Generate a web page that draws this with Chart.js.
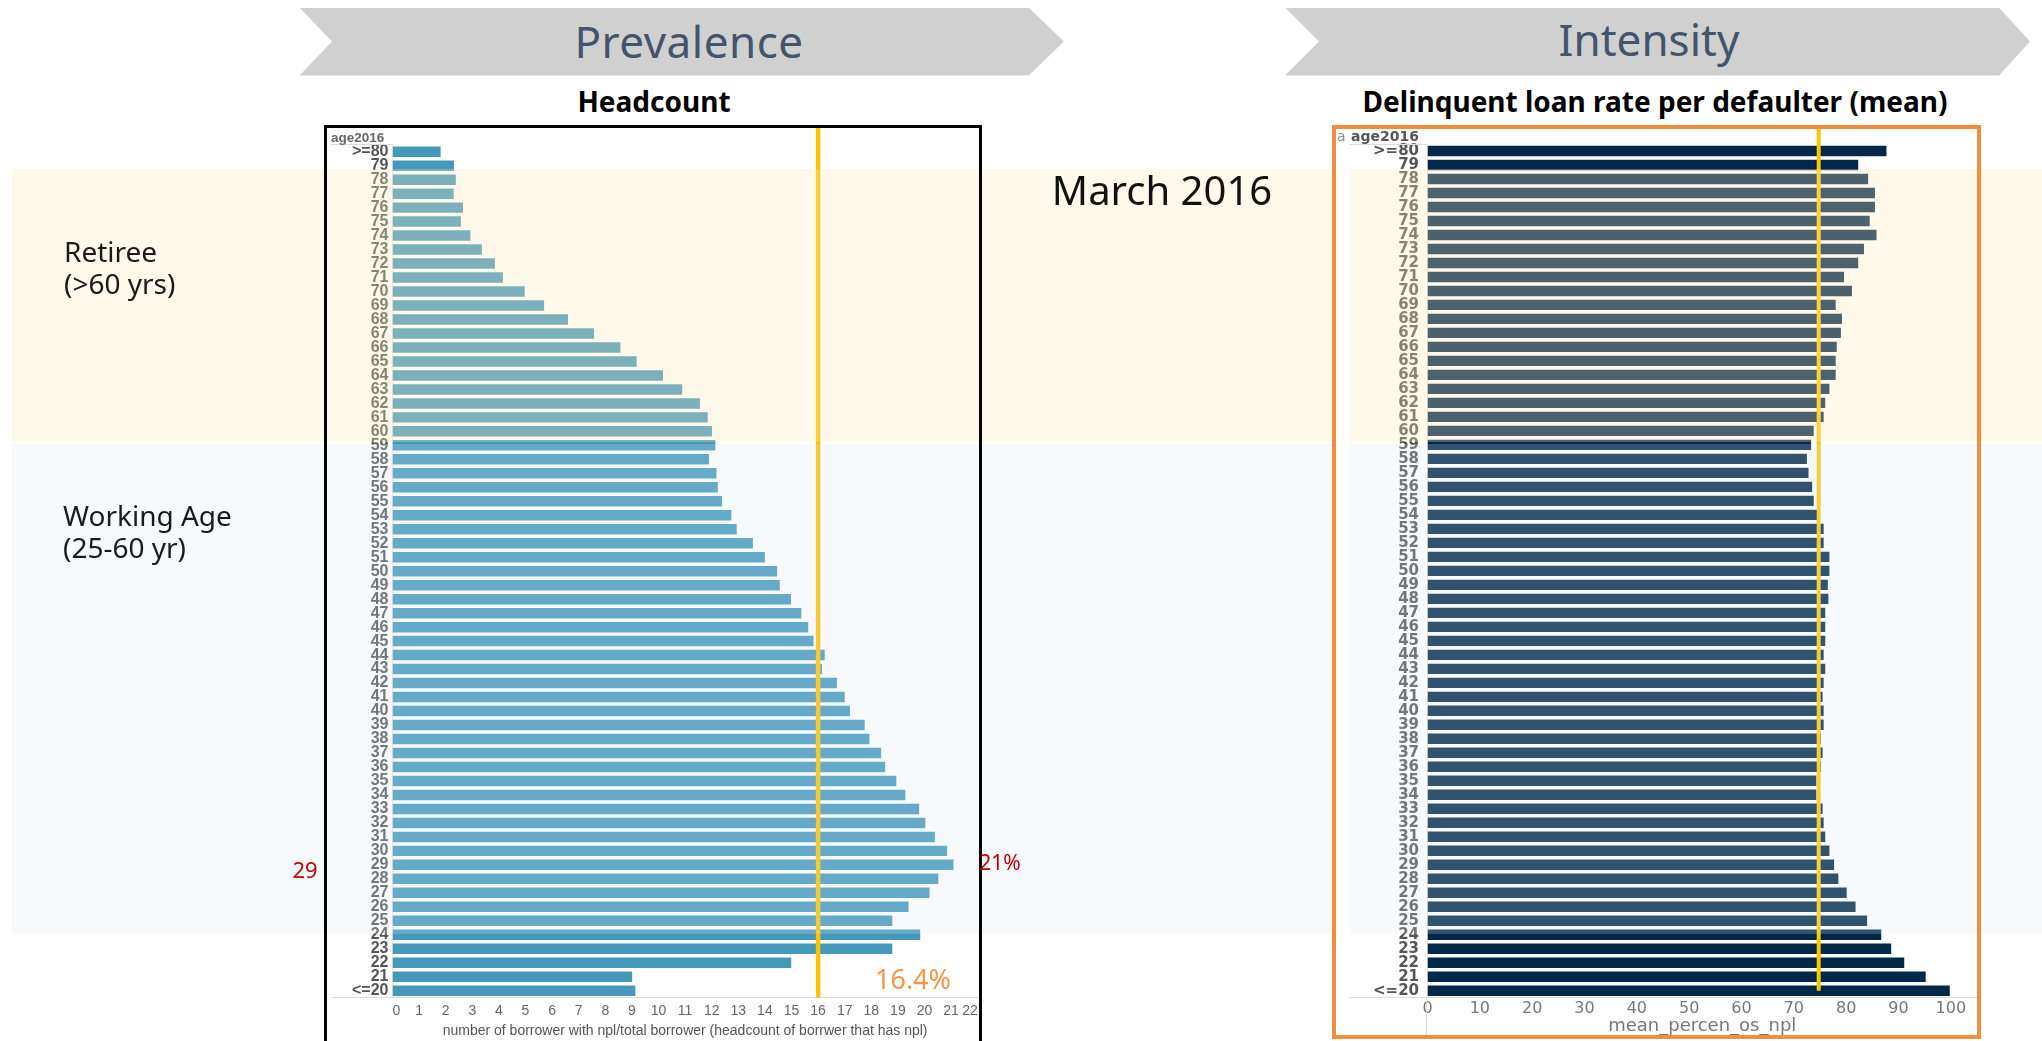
<!DOCTYPE html>
<html>
<head>
<meta charset="utf-8">
<script src="https://cdn.jsdelivr.net/npm/chart.js@4.4.1/dist/chart.umd.min.js"></script>
<style>
  body { margin: 0; width: 2042px; height: 1041px; overflow: hidden; background: #fff; position: relative; font-family: 'Noto Sans', sans-serif; }
  .txt { position: absolute; white-space: nowrap; line-height: 1; transform: translate(-50%, -50%); z-index: 4; }
  .lt { transform: translate(0, -50%); }
  .chev { position: absolute; background: #d0d0d0; z-index: 1; }
  canvas { position: absolute; z-index: 1; }
  .band { position: absolute; z-index: 2; pointer-events: none; }
  .retiree { background: rgba(255, 236, 190, 0.3); top: 169px; height: 272.5px; }
  .working { background: rgba(220, 233, 244, 0.224); top: 443.5px; height: 490.2px; }
  .line { position: absolute; background: #dcdcdc; z-index: 3; }
</style>
</head>
<body>

<!-- header chevrons -->
<div class="chev" style="left:299.5px;top:7.5px;width:764.5px;height:68px;clip-path:polygon(0 0,729px 0,764.5px 34px,729px 68px,0 68px,32.5px 34px)"></div>
<div class="chev" style="left:1285px;top:7.5px;width:745px;height:68px;clip-path:polygon(0 0,714px 0,745px 34px,714px 68px,0 68px,34px 34px)"></div>
<div class="txt" style="left:689px;top:41px;font-size:44px;color:#44546a;letter-spacing:0.5px">Prevalence</div>
<div class="txt" style="left:1649px;top:39px;font-size:44px;color:#44546a">Intensity</div>

<div class="txt" style="left:654px;top:101px;font-size:28px;font-weight:bold;color:#000">Headcount</div>
<div class="txt" style="left:1655px;top:101px;font-size:28px;font-weight:bold;color:#000">Delinquent loan rate per defaulter (mean)</div>

<div class="txt" style="left:1162px;top:190px;font-size:40px;color:#111">March 2016</div>

<div class="txt lt" style="left:64px;top:251px;font-size:28px;color:#1a1a1a">Retiree</div>
<div class="txt lt" style="left:64px;top:283px;font-size:28px;color:#1a1a1a">(&gt;60 yrs)</div>
<div class="txt lt" style="left:63px;top:515px;font-size:28px;color:#1a1a1a">Working Age</div>
<div class="txt lt" style="left:63px;top:547px;font-size:28px;color:#1a1a1a">(25-60 yr)</div>

<!-- left chart -->
<canvas id="headcount" width="652" height="913" style="left:327px;top:128px"></canvas>
<div style="position:absolute;left:324px;top:125px;width:658px;height:940px;border:3px solid #000;border-bottom:none;box-sizing:border-box;z-index:4"></div>
<div class="txt lt" style="left:331px;top:137px;font:bold 13.5px 'Liberation Sans',Arial,sans-serif;color:#666">age2016</div>
<div class="line" style="left:331px;top:144px;width:61px;height:1px"></div>
<div class="line" style="left:331px;top:997px;width:62px;height:1px"></div>
<div class="txt" style="left:305px;top:869px;font-size:22px;color:#c00000">29</div>
<div class="txt" style="left:1000px;top:862px;font-size:21px;color:#c00000">21%</div>
<div class="txt" style="left:913px;top:978px;font-size:27px;color:#f79646">16.4%</div>

<!-- right chart -->
<canvas id="intensity" width="641" height="906" style="left:1336px;top:129px"></canvas>
<div style="position:absolute;left:1332px;top:125px;width:649px;height:914px;border:4px solid #f28e3b;box-sizing:border-box;z-index:4"></div>
<div class="txt lt" style="left:1337px;top:136px;font:14px 'DejaVu Sans',sans-serif;color:#888">a</div>
<div class="txt" style="left:1419px;top:136px;transform:translate(-100%,-50%);font:bold 14px 'DejaVu Sans',sans-serif;color:#555">age2016</div>
<div class="line" style="left:1349px;top:144px;width:77px;height:1px"></div>
<div class="line" style="left:1349px;top:997px;width:79px;height:1px"></div>
<div class="line" style="left:1426px;top:998px;width:1px;height:37px"></div>

<!-- age bands -->
<div class="band retiree" style="left:12px;width:1324.5px"></div>
<div class="band retiree" style="left:1349.5px;width:692.5px"></div>
<div class="band working" style="left:12px;width:1324.5px"></div>
<div class="band working" style="left:1349.5px;width:692.5px"></div>

<script>
/*
    DATA
*/
const ageLabels = ['>=80', '79', '78', '77', '76', '75', '74', '73', '72', '71', '70',
  '69', '68', '67', '66', '65', '64', '63', '62', '61', '60',
  '59', '58', '57', '56', '55', '54', '53', '52', '51', '50',
  '49', '48', '47', '46', '45', '44', '43', '42', '41', '40',
  '39', '38', '37', '36', '35', '34', '33', '32', '31', '30',
  '29', '28', '27', '26', '25', '24', '23', '22', '21', '<=20'];

// share of borrowers with npl, per age
const headcountShare = [1.81, 2.31, 2.38, 2.30, 2.65, 2.57, 2.93, 3.36, 3.85, 4.15, 4.97,
  5.70, 6.60, 7.58, 8.57, 9.18, 10.17, 10.89, 11.56, 11.85, 12.01,
  12.14, 11.90, 12.18, 12.23, 12.39, 12.74, 12.94, 13.55, 14.00, 14.46,
  14.56, 14.98, 15.37, 15.63, 15.83, 16.25, 16.15, 16.71, 17.00, 17.20,
  17.75, 17.93, 18.37, 18.52, 18.94, 19.28, 19.80, 20.03, 20.39, 20.85,
  21.09, 20.52, 20.19, 19.40, 18.79, 19.84, 18.79, 14.99, 9.01, 9.13];

// mean_percen_os_npl, per age
const meanPercenOsNpl = [87.7, 82.3, 84.2, 85.5, 85.5, 84.5, 85.8, 83.4, 82.3, 79.6, 81.1,
  78.0, 79.2, 79.0, 78.2, 78.0, 78.0, 76.8, 76.0, 75.7, 73.8,
  73.3, 72.5, 72.8, 73.5, 73.8, 74.9, 75.7, 75.7, 76.8, 76.8,
  76.5, 76.6, 76.0, 76.0, 76.0, 75.7, 76.0, 75.7, 75.5, 75.7,
  75.7, 75.2, 75.5, 75.2, 74.3, 74.3, 75.5, 75.7, 76.0, 76.8,
  77.7, 78.5, 80.1, 81.8, 84.0, 86.7, 88.6, 91.1, 95.2, 99.8];

const headcountAvg = 16;
const intensityAvg = 74.75;

/*
    HELPERS
*/
// vertical reference line at a value of the x scale
const avgLine = {
  id: 'avgLine',
  afterDatasetsDraw(chart, args, opts) {
    const { ctx, chartArea, scales: { x, y } } = chart;
    const px = x.getPixelForValue(opts.value);
    const bottom = opts.toLastBar ? y.getPixelForValue(y.max) : chartArea.bottom;
    ctx.save();
    ctx.strokeStyle = opts.color;
    ctx.lineWidth = opts.width;
    ctx.beginPath();
    ctx.moveTo(px, 0);
    ctx.lineTo(px, bottom);
    ctx.stroke();
    ctx.restore();
  }
};

const fixBox = (w, h) => (scale) => {
  if (w !== undefined) scale.width = w;
  if (h !== undefined) scale.height = h;
  scale.paddingLeft = scale.paddingRight = scale.paddingTop = scale.paddingBottom = 0;
};

const noGrid = { display: false, drawTicks: false };

/*
    CHARTS
*/
new Chart(document.getElementById('headcount'), {
  type: 'bar',
  data: {
    labels: ageLabels,
    datasets: [{ data: headcountShare, backgroundColor: '#4499bb', barPercentage: 0.75, categoryPercentage: 1 }]
  },
  options: {
    indexAxis: 'y',
    responsive: false,
    animation: false,
    events: [],
    layout: { padding: { top: 16.7, right: 1.3, left: 0, bottom: 0 } },
    plugins: {
      legend: { display: false },
      tooltip: { enabled: false },
      avgLine: { value: headcountAvg, color: '#ffc000', width: 4.5 }
    },
    scales: {
      x: {
        min: 0,
        max: 22,
        grid: noGrid,
        border: { color: '#d9d9d9' },
        ticks: {
          stepSize: 1, autoSkip: false, maxRotation: 0, align: 'inner', padding: 5, color: '#666',
          font: { family: "'Liberation Sans Narrow', 'Liberation Sans', sans-serif", size: 14 }
        },
        title: {
          display: true,
          text: 'number of borrower with npl/total borrower (headcount of borrwer that has npl)',
          color: '#555',
          padding: { top: 0, bottom: 1 },
          font: { family: "'Liberation Sans Narrow', 'Liberation Sans', sans-serif", size: 14 }
        },
        afterFit: fixBox(undefined, 43.3)
      },
      y: {
        grid: noGrid,
        border: { color: '#e8e8e8' },
        ticks: {
          autoSkip: false, padding: 4, color: '#555',
          font: { family: "'Liberation Sans', Arial, sans-serif", size: 16, weight: 'bold' }
        },
        afterFit: fixBox(65.5)
      }
    }
  },
  plugins: [avgLine]
});

new Chart(document.getElementById('intensity'), {
  type: 'bar',
  data: {
    labels: ageLabels,
    datasets: [{ data: meanPercenOsNpl, backgroundColor: '#012849', barPercentage: 0.74, categoryPercentage: 1 }]
  },
  options: {
    indexAxis: 'y',
    responsive: false,
    animation: false,
    events: [],
    layout: { padding: { top: 15, right: 0, left: 0, bottom: 0 } },
    plugins: {
      legend: { display: false },
      tooltip: { enabled: false },
      avgLine: { value: intensityAvg, color: '#ffc700', width: 4, toLastBar: true }
    },
    scales: {
      x: {
        min: 0,
        max: 105,
        grid: noGrid,
        border: { color: '#d9d9d9' },
        ticks: {
          stepSize: 10, includeBounds: false, autoSkip: false, maxRotation: 0, padding: 2, color: '#777',
          font: { family: "'DejaVu Sans', sans-serif", size: 16 }
        },
        title: {
          display: true,
          text: 'mean_percen_os_npl',
          color: '#777',
          padding: { top: 0, bottom: 0 },
          font: { family: "'DejaVu Sans', sans-serif", size: 18, lineHeight: 1 }
        },
        afterFit: fixBox(undefined, 37.3)
      },
      y: {
        grid: noGrid,
        border: { color: '#e8e8e8' },
        ticks: {
          autoSkip: false, padding: 8.5, color: '#555',
          font: { family: "'DejaVu Sans', sans-serif", size: 15, weight: 'bold' }
        },
        afterFit: fixBox(91.5)
      }
    }
  },
  plugins: [avgLine]
});
</script>
</body>
</html>
